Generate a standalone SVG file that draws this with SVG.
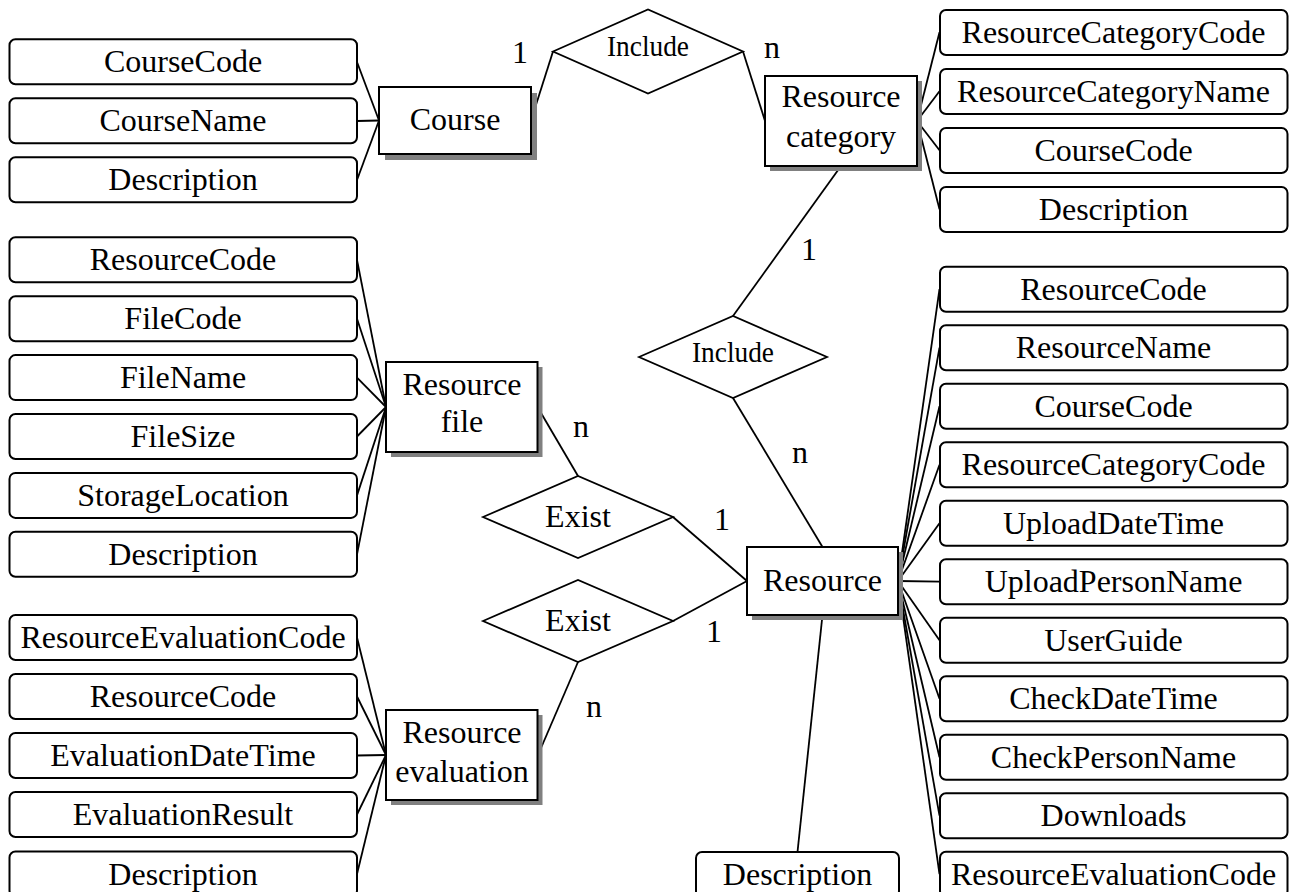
<svg xmlns="http://www.w3.org/2000/svg" width="1290" height="892" viewBox="0 0 1290 892">
  <style>
    text { font-family: "Liberation Serif", "Times New Roman", serif; fill: #000; text-anchor: middle; }
    .t { font-size: 32px; }
    .rel { font-size: 29px; }
    .attr { fill: #fff; stroke: #000; stroke-width: 2; }
    .ent { fill: #fff; stroke: #000; stroke-width: 2; }
    .shadow { fill: #808080; }
    .dia { fill: #fff; stroke: #000; stroke-width: 1.8; }
    .conn line { stroke: #000; stroke-width: 1.8; }
  </style>
  <defs>
    <rect id="attrL" x="0" y="0" width="347.5" height="45" rx="6" class="attr"/>
  </defs>
  <rect width="1290" height="892" fill="#fff"/>

  <!-- connectors -->
  <g id="connectors" class="conn">
    <!-- Course attributes -->
    <line x1="357" y1="62" x2="379" y2="120.5"/>
    <line x1="357" y1="121" x2="379" y2="120.5"/>
    <line x1="357" y1="180" x2="379" y2="120.5"/>
    <!-- Course - Include - Resource category -->
    <line x1="531" y1="120.5" x2="553" y2="51.5"/>
    <line x1="743" y1="51.5" x2="765" y2="121"/>
    <!-- Resource category attributes -->
    <line x1="917" y1="121" x2="939.5" y2="32.3"/>
    <line x1="917" y1="121" x2="939.5" y2="91.3"/>
    <line x1="917" y1="121" x2="939.5" y2="150.3"/>
    <line x1="917" y1="121" x2="939.5" y2="209.3"/>
    <!-- Resource category - Include - Resource -->
    <line x1="841" y1="166" x2="733" y2="316"/>
    <line x1="733" y1="398" x2="822.5" y2="547"/>
    <!-- Resource file attributes -->
    <line x1="357" y1="259.8" x2="386" y2="407"/>
    <line x1="357" y1="318.7" x2="386" y2="407"/>
    <line x1="357" y1="377.6" x2="386" y2="407"/>
    <line x1="357" y1="436.5" x2="386" y2="407"/>
    <line x1="357" y1="495.4" x2="386" y2="407"/>
    <line x1="357" y1="554.3" x2="386" y2="407"/>
    <!-- Resource file - Exist - Resource -->
    <line x1="537.5" y1="407" x2="578" y2="476"/>
    <line x1="673" y1="517" x2="747" y2="581"/>
    <!-- Resource evaluation - Exist - Resource -->
    <line x1="673" y1="621" x2="747" y2="581"/>
    <line x1="578" y1="662" x2="538" y2="755"/>
    <!-- Resource evaluation attributes -->
    <line x1="357" y1="637.5" x2="386" y2="755"/>
    <line x1="357" y1="696.5" x2="386" y2="755"/>
    <line x1="357" y1="755.5" x2="386" y2="755"/>
    <line x1="357" y1="814.5" x2="386" y2="755"/>
    <line x1="357" y1="874" x2="386" y2="755"/>
    <!-- Resource attributes -->
    <line x1="898" y1="581" x2="939.5" y2="289.2"/>
    <line x1="898" y1="581" x2="939.5" y2="347.7"/>
    <line x1="898" y1="581" x2="939.5" y2="406.2"/>
    <line x1="898" y1="581" x2="939.5" y2="464.7"/>
    <line x1="898" y1="581" x2="939.5" y2="523.2"/>
    <line x1="898" y1="581" x2="939.5" y2="581.7"/>
    <line x1="898" y1="581" x2="939.5" y2="640.2"/>
    <line x1="898" y1="581" x2="939.5" y2="698.7"/>
    <line x1="898" y1="581" x2="939.5" y2="757.2"/>
    <line x1="898" y1="581" x2="939.5" y2="815.7"/>
    <line x1="898" y1="581" x2="939.5" y2="874.2"/>
    <line x1="822.5" y1="615" x2="797.5" y2="852"/>
  </g>

  <!-- cardinality labels -->
  <g id="cardinalities" class="t">
    <text x="520" y="63">1</text>
    <text x="772" y="58">n</text>
    <text x="809" y="260">1</text>
    <text x="800" y="463">n</text>
    <text x="581" y="437">n</text>
    <text x="722" y="530">1</text>
    <text x="714" y="642">1</text>
    <text x="594" y="717">n</text>
  </g>

  <!-- entities -->
  <g id="course">
    <rect class="shadow" x="385" y="93" width="152" height="67"/>
    <rect class="ent" x="379" y="87" width="152" height="67"/>
    <text class="t" x="455" y="130">Course</text>
  </g>
  <g id="resource-category">
    <rect class="shadow" x="770" y="81" width="152" height="90"/>
    <rect class="ent" x="765" y="76" width="152" height="90"/>
    <text class="t" x="841" y="107">Resource</text>
    <text class="t" x="841" y="147">category</text>
  </g>
  <g id="resource-file">
    <rect class="shadow" x="391" y="367" width="151.5" height="90"/>
    <rect class="ent" x="386" y="362" width="151.5" height="90"/>
    <text class="t" x="462" y="395">Resource</text>
    <text class="t" x="462" y="432">file</text>
  </g>
  <g id="resource-evaluation">
    <rect class="shadow" x="391" y="715" width="151.5" height="90"/>
    <rect class="ent" x="386" y="710" width="151.5" height="90"/>
    <text class="t" x="462" y="743">Resource</text>
    <text class="t" x="462" y="782">evaluation</text>
  </g>
  <g id="resource">
    <rect class="shadow" x="752" y="552" width="151" height="68"/>
    <rect class="ent" x="747" y="547" width="151" height="68"/>
    <text class="t" x="822.5" y="591">Resource</text>
  </g>

  <!-- relationships -->
  <g id="include-course">
    <polygon class="dia" points="553,51.5 648,9.5 743,51.5 648,93.5"/>
    <text class="rel" x="648" y="56" textLength="82" lengthAdjust="spacingAndGlyphs">Include</text>
  </g>
  <g id="include-resource">
    <polygon class="dia" points="639,357 733,316 827,357 733,398"/>
    <text class="rel" x="733" y="362" textLength="82" lengthAdjust="spacingAndGlyphs">Include</text>
  </g>
  <g id="exist-file">
    <polygon class="dia" points="483,517 578,476 673,517 578,558"/>
    <text class="t" x="578" y="527">Exist</text>
  </g>
  <g id="exist-evaluation">
    <polygon class="dia" points="483,621 578,580 673,621 578,662"/>
    <text class="t" x="578" y="631">Exist</text>
  </g>

  <!-- Course attributes -->
  <g id="course-attrs" class="t">
    <g id="a-course-code"><use href="#attrL" x="9.5" y="39.3"/><text x="183" y="72.3">CourseCode</text></g>
    <g id="a-course-name"><use href="#attrL" x="9.5" y="98.3"/><text x="183" y="131.3">CourseName</text></g>
    <g id="a-course-desc"><use href="#attrL" x="9.5" y="157.3"/><text x="183" y="190.3">Description</text></g>
  </g>

  <!-- Resource file attributes -->
  <g id="file-attrs" class="t">
    <g id="a-file-rescode"><use href="#attrL" x="9.5" y="237.3"/><text x="183" y="270.3">ResourceCode</text></g>
    <g id="a-file-code"><use href="#attrL" x="9.5" y="296.2"/><text x="183" y="329.2">FileCode</text></g>
    <g id="a-file-name"><use href="#attrL" x="9.5" y="355.1"/><text x="183" y="388.1">FileName</text></g>
    <g id="a-file-size"><use href="#attrL" x="9.5" y="414"/><text x="183" y="447">FileSize</text></g>
    <g id="a-file-loc"><use href="#attrL" x="9.5" y="472.9"/><text x="183" y="505.9">StorageLocation</text></g>
    <g id="a-file-desc"><use href="#attrL" x="9.5" y="531.8"/><text x="183" y="564.8">Description</text></g>
  </g>

  <!-- Resource evaluation attributes -->
  <g id="eval-attrs" class="t">
    <g id="a-eval-code"><use href="#attrL" x="9.5" y="615"/><text x="183" y="648">ResourceEvaluationCode</text></g>
    <g id="a-eval-rescode"><use href="#attrL" x="9.5" y="674"/><text x="183" y="707">ResourceCode</text></g>
    <g id="a-eval-time"><use href="#attrL" x="9.5" y="733"/><text x="183" y="766">EvaluationDateTime</text></g>
    <g id="a-eval-result"><use href="#attrL" x="9.5" y="792"/><text x="183" y="825">EvaluationResult</text></g>
    <g id="a-eval-desc"><use href="#attrL" x="9.5" y="851.5"/><text x="183" y="884.5">Description</text></g>
  </g>

  <!-- Resource category attributes -->
  <g id="category-attrs" class="t">
    <g id="a-cat-code"><use href="#attrL" x="940" y="10"/><text x="1113.5" y="43">ResourceCategoryCode</text></g>
    <g id="a-cat-name"><use href="#attrL" x="940" y="69"/><text x="1113.5" y="102">ResourceCategoryName</text></g>
    <g id="a-cat-course"><use href="#attrL" x="940" y="128"/><text x="1113.5" y="161">CourseCode</text></g>
    <g id="a-cat-desc"><use href="#attrL" x="940" y="187"/><text x="1113.5" y="220">Description</text></g>
  </g>

  <!-- Resource attributes -->
  <g id="resource-attrs" class="t">
    <g id="a-res-code"><use href="#attrL" x="940" y="266.7"/><text x="1113.5" y="299.7">ResourceCode</text></g>
    <g id="a-res-name"><use href="#attrL" x="940" y="325.2"/><text x="1113.5" y="358.2">ResourceName</text></g>
    <g id="a-res-course"><use href="#attrL" x="940" y="383.7"/><text x="1113.5" y="416.7">CourseCode</text></g>
    <g id="a-res-cat"><use href="#attrL" x="940" y="442.2"/><text x="1113.5" y="475.2">ResourceCategoryCode</text></g>
    <g id="a-res-uptime"><use href="#attrL" x="940" y="500.7"/><text x="1113.5" y="533.7">UploadDateTime</text></g>
    <g id="a-res-upname"><use href="#attrL" x="940" y="559.2"/><text x="1113.5" y="592.2">UploadPersonName</text></g>
    <g id="a-res-guide"><use href="#attrL" x="940" y="617.7"/><text x="1113.5" y="650.7">UserGuide</text></g>
    <g id="a-res-chtime"><use href="#attrL" x="940" y="676.2"/><text x="1113.5" y="709.2">CheckDateTime</text></g>
    <g id="a-res-chname"><use href="#attrL" x="940" y="734.7"/><text x="1113.5" y="767.7">CheckPersonName</text></g>
    <g id="a-res-dl"><use href="#attrL" x="940" y="793.2"/><text x="1113.5" y="826.2">Downloads</text></g>
    <g id="a-res-eval"><use href="#attrL" x="940" y="851.7"/><text x="1113.5" y="884.7">ResourceEvaluationCode</text></g>
  </g>

  <!-- standalone Resource description -->
  <g id="a-res-desc" class="t">
    <rect class="attr" x="696" y="852" width="203" height="45" rx="6"/>
    <text x="797.5" y="885">Description</text>
  </g>
</svg>
